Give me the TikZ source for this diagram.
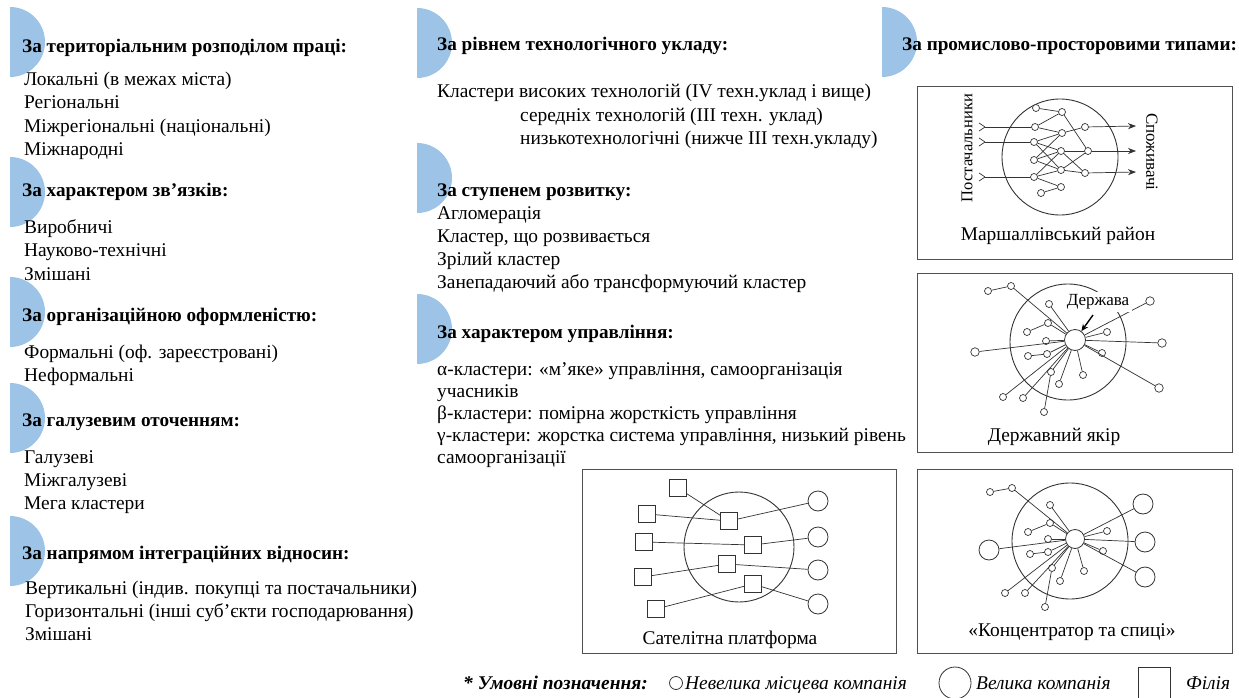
\documentclass[tikz,border=0pt]{standalone}
\usepackage{fontspec}
\setmainfont{Liberation Serif}
\usetikzlibrary{arrows.meta}
\definecolor{tabblue}{HTML}{9DC3E6}
\definecolor{framegray}{HTML}{505050}
\definecolor{inkgray}{HTML}{333333}
% half disc marking the start of each group
\newcommand\tabmark[2]{\fill[tabblue] (#1,#2) ++(0pt,35pt) arc[start angle=90,end angle=-90,radius=35pt] -- cycle;}
\newcommand\bodysize{\fontsize{19.4}{23}\selectfont}
\newcommand\headsize{\fontsize{19.2}{23}\selectfont}
\begin{document}
\begin{tikzpicture}[x=1pt,y=-1pt,
  head/.style={anchor=base west, inner sep=0pt, font=\bfseries\headsize},
  item/.style={anchor=base west, inner sep=0pt, font=\bodysize},
  caption/.style={anchor=base, inner sep=0pt, font=\bodysize},
  frame/.style={draw=framegray, line width=1pt},
  ring/.style={circle, draw=inkgray, line width=0.9pt, inner sep=0pt},
  sm/.style={circle, draw=inkgray, fill=white, line width=0.7pt, inner sep=0pt, minimum size=7pt},
  md/.style={circle, draw=inkgray, fill=white, line width=0.7pt, inner sep=0pt, minimum size=8.5pt},
  lg/.style={circle, draw=inkgray, fill=white, line width=0.8pt, inner sep=0pt, minimum size=20pt},
  sq/.style={rectangle, draw=inkgray, fill=white, line width=0.8pt, inner sep=0pt, minimum size=17pt},
  link/.style={draw=inkgray, line width=0.7pt},
  legend/.style={anchor=base west, inner sep=0pt, font=\itshape\bodysize}]
\useasboundingbox (0,0) rectangle (1239,698);
\fill[white] (0,0) rectangle (1239,698);

% ---------- group markers ----------
\tabmark{10}{42}\tabmark{10}{192}\tabmark{10}{312}\tabmark{10}{418}\tabmark{10}{551}
\tabmark{417}{43}\tabmark{417}{178}\tabmark{417}{329}
\tabmark{882}{42}

% ---------- left column ----------
\node[head] (h1) at (22,53) {За територіальним розподілом праці:};
\node[item] (h1a) at (24,86) {Локальні (в межах міста)};
\node[item] (h1b) at (24,109) {Регіональні};
\node[item] (h1c) at (24,132) {Міжрегіональні (національні)};
\node[item] (h1d) at (24,155) {Міжнародні};

\node[head] (h2) at (22,196) {За характером зв’язків:};
\node[item] (h2a) at (24,233) {Виробничі};
\node[item] (h2b) at (24,256) {Науково-технічні};
\node[item] (h2c) at (24,280) {Змішані};

\node[head] (h3) at (22,321) {За організаційною оформленістю:};
\node[item] (h3a) at (24,358) {Формальні (оф. зареєстровані)};
\node[item] (h3b) at (24,381) {Неформальні};

\node[head] (h4) at (22,426) {За галузевим оточенням:};
\node[item] (h4a) at (24,463) {Галузеві};
\node[item] (h4b) at (24,486) {Міжгалузеві};
\node[item] (h4c) at (24,509) {Мега кластери};

\node[head] (h5) at (22,559) {За напрямом інтеграційних відносин:};
\node[item] (h5a) at (25,594) {Вертикальні (індив. покупці та постачальники)};
\node[item] (h5b) at (25,617) {Горизонтальні (інші суб’єкти господарювання)};
\node[item] (h5c) at (25,640) {Змішані};

% ---------- middle column ----------
\node[head] (m1) at (437,51) {За рівнем технологічного укладу:};
\node[item] (m1a) at (437,98) {Кластери високих технологій (IV техн.уклад і вище)};
\node[item] (m1b) at (520,122) {середніх технологій (III техн. уклад)};
\node[item] (m1c) at (520,145) {низькотехнологічні (нижче III техн.укладу)};

\node[head] (m2) at (437,196) {За ступенем розвитку:};
\node[item] (m2a) at (437,219) {Агломерація};
\node[item] (m2b) at (437,242) {Кластер, що розвивається};
\node[item] (m2c) at (437,265) {Зрілий кластер};
\node[item] (m2d) at (437,288) {Занепадаючий або трансформуючий кластер};

\node[head] (m3) at (437,338) {За характером управління:};
\node[item] (m3a) at (437,375) {α-кластери: «м’яке» управління, самоорганізація};
\node[item] (m3b) at (437,397) {учасників};
\node[item] (m3c) at (437,419) {β-кластери: помірна жорсткість управління};
\node[item] (m3d) at (437,441) {γ-кластери: жорстка система управління, низький рівень};
\node[item] (m3e) at (437,463) {самоорганізації};

% ---------- right column ----------
\node[head] (r1) at (902,51) {За промислово-просторовими типами:};

% ---------- frames ----------
\draw[frame] (917,87) rectangle (1232,259);
\draw[frame] (917,273) rectangle (1232,452);
\draw[frame] (582,469) rectangle (896,653);
\draw[frame] (917,469) rectangle (1232,653);

% ---------- Marshall district ----------
\node[ring, minimum size=116pt] (mring) at (1060,157) {};
\node[sm] (ma1) at (1036,108) {};
\node[sm] (ma2) at (1035,127) {};
\node[sm] (ma3) at (1034,142) {};
\node[sm] (ma4) at (1034,160) {};
\node[sm] (ma5) at (1034,177) {};
\node[sm] (ma6) at (1041,193) {};
\node[sm] (mb1) at (1062,112) {};
\node[sm] (mb2) at (1062,133) {};
\node[sm] (mb3) at (1061,151) {};
\node[sm] (mb4) at (1061,170) {};
\node[sm] (mb5) at (1061,187) {};
\node[sm] (mc1) at (1085,127) {};
\node[sm] (mc2) at (1088,151) {};
\node[sm] (mc3) at (1085,173) {};
\coordinate (min1) at (985,127);
\coordinate (min2) at (985,142);
\coordinate (min3) at (985,177);
\coordinate (mout1) at (1136,126);
\coordinate (mout2) at (1136,151);
\coordinate (mout3) at (1136,172);
\foreach \p in {min1,min2,min3}
  \draw[link] (\p) -- ++(-6pt,4pt) (\p) -- ++(-6pt,-4pt);
\draw[link] (min1) -- (ma2);
\draw[link] (min2) -- (ma3);
\draw[link] (min3) -- (ma5);
\foreach \u/\v in {ma1/mb1, mb1/ma2, mb1/mc2, ma2/mb2, mb2/mc1, ma3/mb2, ma3/mb3, ma3/mb4,
                   ma4/mb2, ma4/mb3, ma4/mb4, ma5/mb3, ma5/mb4, ma5/mb5, ma6/mb5,
                   mb3/mc2, mb4/mc2, mb3/mc3, mb4/mc3}
  \draw[link] (\u) -- (\v);
\draw[link, -{Stealth[length=8pt,width=6pt]}] (mc1) -- (mout1);
\draw[link, -{Stealth[length=8pt,width=6pt]}] (mc2) -- (mout2);
\draw[link, -{Stealth[length=8pt,width=6pt]}] (mc3) -- (mout3);
\node[inner sep=0pt, rotate=90, font=\fontsize{16.5}{18}\selectfont] (supl) at (967,148) {Постачальники};
\node[inner sep=0pt, rotate=-90, font=\fontsize{17}{19}\selectfont] (cons) at (1152,152) {Споживачі};
\node[caption] (cap1) at (1058,240) {Маршаллівський район};

% ---------- State anchor ----------
\node[ring, minimum size=116pt] (sring) at (1068,342) {};
\node[circle, draw=inkgray, fill=white, line width=0.8pt, minimum size=21pt, inner sep=0pt] (shub) at (1075,340) {};
\node[sm] (s1) at (988,291) {};
\node[sm] (s2) at (1011,286) {};
\node[sm] (s3) at (1049,304) {};
\node[sm] (s4) at (1027,332) {};
\node[sm] (s5) at (1048,323) {};
\node[sm] (s6) at (1046,341) {};
\node[md] (s7) at (975,352) {};
\node[sm] (s8) at (1028,356) {};
\node[sm] (s9) at (1047,354) {};
\node[sm] (s10) at (1051,372) {};
\node[sm] (s11) at (1044,412) {};
\node[sm] (s12) at (1003,397) {};
\node[sm] (s13) at (1023,398) {};
\node[sm] (s14) at (1059,384) {};
\node[sm] (s15) at (1083,375) {};
\node[sm] (s16) at (1102,353) {};
\node[sm] (s17) at (1107,332) {};
\node[md] (s18) at (1162,343) {};
\node[md] (s19) at (1159,388) {};
\node[md] (s20) at (1150,301) {};
\foreach \u/\v in {s1/s2, s2/shub, s3/shub, s4/s5, s5/shub, s6/shub, s7/shub, s8/s9, s9/shub,
                   s11/s10, s10/shub, s12/shub, s13/shub, s14/shub, s15/shub, s16/shub,
                   s17/shub, s18/shub, s19/shub, s20/shub}
  \draw[link] (\u) -- (\v);
\node[fill=white, inner sep=3pt, font=\fontsize{17}{19}\selectfont] (gov) at (1098,302) {Держава};
\coordinate (govtip) at (1093,315);
\draw[draw=black, line width=1.4pt, -{Stealth[length=7pt,width=6pt]}] (govtip) -- (shub);
\node[caption] (cap2) at (1054,441) {Державний якір};

% ---------- Satellite platform ----------
\node[ring, minimum size=110pt] (pring) at (739,547) {};
\node[sq] (p1) at (678,488) {};
\node[sq] (p2) at (647,514) {};
\node[sq] (p3) at (644,542) {};
\node[sq] (p4) at (643,577) {};
\node[sq] (p5) at (656,609) {};
\node[sq] (q1) at (729,521) {};
\node[sq] (q2) at (753,545) {};
\node[sq] (q3) at (727,564) {};
\node[sq] (q4) at (753,584) {};
\node[lg] (o1) at (818,501) {};
\node[lg] (o2) at (818,537) {};
\node[lg] (o3) at (818,570) {};
\node[lg] (o4) at (818,604) {};
\foreach \u/\v in {p1/q1, p2/q1, q1/o1, p3/q2, q2/o2, p4/q3, q3/o3, p5/q4, q4/o4}
  \draw[link] (\u) -- (\v);
\node[caption] (cap3) at (730,644) {Сателітна платформа};

% ---------- Hub and spokes ----------
\node[ring, minimum size=116pt] (hring) at (1070,541) {};
\node[circle, draw=inkgray, fill=white, line width=0.8pt, minimum size=19pt, inner sep=0pt] (hhub) at (1075,539) {};
\node[sm] (k1) at (990,492) {};
\node[sm] (k2) at (1012,488) {};
\node[sm] (k3) at (1050,505) {};
\node[sm] (k4) at (1028,532) {};
\node[sm] (k5) at (1050,523) {};
\node[sm] (k6) at (1048,539) {};
\node[lg] (kL1) at (989,550) {};
\node[sm] (k7) at (1030,554) {};
\node[sm] (k8) at (1048,552) {};
\node[sm] (k9) at (1052,568) {};
\node[sm] (k10) at (1045,607) {};
\node[sm] (k11) at (1005,593) {};
\node[sm] (k12) at (1025,593) {};
\node[sm] (k13) at (1060,581) {};
\node[sm] (k14) at (1084,571) {};
\node[sm] (k15) at (1103,551) {};
\node[sm] (k16) at (1107,531) {};
\node[lg] (kL2) at (1143,504) {};
\node[lg] (kL3) at (1145,542) {};
\node[lg] (kL4) at (1145,577) {};
\foreach \u/\v in {k1/k2, k2/hhub, k3/hhub, k4/k5, k5/hhub, k6/hhub, kL1/hhub, k7/k8, k8/hhub,
                   k10/k9, k9/hhub, k11/hhub, k12/hhub, k13/hhub, k14/hhub, k15/hhub,
                   k16/hhub, kL2/hhub, kL3/hhub, kL4/hhub}
  \draw[link] (\u) -- (\v);
\node[caption] (cap4) at (1072,636) {«Концентратор та спиці»};

% ---------- legend ----------
\node[anchor=base west, inner sep=0pt, font=\bfseries\itshape\bodysize] (lgt) at (463,689) {* Умовні позначення:};
\node[circle, draw=inkgray, line width=0.8pt, minimum size=13pt, inner sep=0pt] (lgs) at (676,683) {};
\node[legend] (lgst) at (685,689) {Невелика місцева компанія};
\node[circle, draw=inkgray, line width=0.8pt, minimum size=32pt, inner sep=0pt] (lgl) at (955,683) {};
\node[legend] (lglt) at (976,689) {Велика компанія};
\node[rectangle, draw=inkgray, line width=0.8pt, minimum size=32pt, inner sep=0pt] (lgq) at (1154,683) {};
\node[legend] (lgqt) at (1186,689) {Філія};
\end{tikzpicture}
\end{document}
